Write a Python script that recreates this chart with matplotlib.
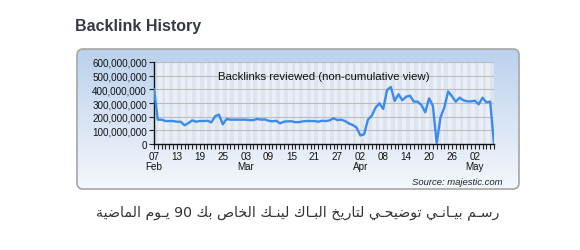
import re
import numpy as np
import pandas as pd
import matplotlib
matplotlib.use("Agg")
import matplotlib.pyplot as plt
import matplotlib.dates as mdates
from matplotlib.patches import FancyBboxPatch
from matplotlib.ticker import FuncFormatter

### Data: backlinks reviewed per day (millions), 90 days from 07 Feb
start_date = "2011-02-07"
backlinks_m = [400, 178, 178, 168, 168, 168, 163, 163, 137, 153,
               173, 163, 168, 168, 170, 158, 203, 215, 144, 183,
               178, 178, 178, 178, 178, 175, 175, 183, 178, 180,
               170, 166, 170, 151, 163, 166, 166, 160, 160, 166,
               168, 168, 168, 163, 170, 168, 173, 188, 175, 178,
               168, 151, 139, 122, 63, 71, 178, 207, 266, 298,
               256, 395, 417, 315, 364, 320, 346, 354, 310, 310,
               285, 232, 334, 280, 5, 195, 268, 385, 349, 310,
               339, 320, 312, 312, 317, 290, 339, 305, 310, 0]
y_ticks = [0, 100e6, 200e6, 300e6, 400e6, 500e6, 600e6]

title = "Backlink History"
series_label = "Backlinks reviewed (non-cumulative view)"
source_text = "Source: majestic.com"
caption = "رسـم بيـانـي توضيحـي لتاريخ البـاك لينـك الخاص بك 90 يـوم الماضية"

dates = pd.date_range(start_date, periods=len(backlinks_m), freq="D")
values = np.array(backlinks_m) * 1e6

### small Arabic shaper (matplotlib has no complex text layout)
AR_FORMS = {  # letter: (isolated presentation form, joins to the next letter)
    'ا': (0xFE8D, False), 'ب': (0xFE8F, True), 'ة': (0xFE93, False),
    'ت': (0xFE95, True), 'ح': (0xFEA1, True), 'خ': (0xFEA5, True),
    'ر': (0xFEAD, False), 'س': (0xFEB1, True), 'ص': (0xFEB9, True),
    'ض': (0xFEBD, True), 'ك': (0xFED9, True), 'ل': (0xFEDD, True),
    'م': (0xFEE1, True), 'ن': (0xFEE5, True), 'و': (0xFEED, False),
    'ي': (0xFEF1, True), 'ـ': (None, True),
}


def shape_arabic(s):
    out = []
    for i, ch in enumerate(s):
        if ch not in AR_FORMS or AR_FORMS[ch][0] is None:
            out.append(ch)
            continue
        prev = s[i - 1] if i > 0 else None
        nxt = s[i + 1] if i + 1 < len(s) else None
        join_prev = prev in AR_FORMS and AR_FORMS[prev][1]
        join_next = AR_FORMS[ch][1] and nxt in AR_FORMS
        base = AR_FORMS[ch][0]
        if join_prev and join_next:
            cp = base + 3
        elif join_prev:
            cp = base + 1
        elif join_next:
            cp = base + 2
        else:
            cp = base
        out.append(chr(cp))
    vis = "".join(out)[::-1]
    return re.sub(r"\d+", lambda m: m.group()[::-1], vis)


plt.rcParams["font.family"] = ["Liberation Sans", "DejaVu Sans"]

W, H = 580, 251
fig = plt.figure(figsize=(W / 100, H / 100), dpi=100)

### background layer in pixel coordinates
bg = fig.add_axes([0, 0, 1, 1])
bg.set_xlim(0, W)
bg.set_ylim(H, 0)
bg.axis("off")

px0, py0, px1, py1 = 77, 50, 519, 190
panel = FancyBboxPatch((px0, py0), px1 - px0, py1 - py0,
                       boxstyle="round,pad=0,rounding_size=6",
                       fc="none", ec="#a6a6a6", lw=1.2, zorder=3)
bg.add_patch(panel)
top_c = np.array([0.73, 0.82, 0.93])
bot_c = np.array([0.96, 0.97, 0.99])
t = np.linspace(0, 1, 200)[:, None, None]
grad = top_c * (1 - t) + bot_c * t
grad = np.repeat(grad, 2, axis=1)
im = bg.imshow(grad, extent=[px0, px1, py1, py0], aspect="auto",
               origin="upper", zorder=1)
im.set_clip_path(panel)

bg.text(75, 26, title, fontsize=11.5, fontweight="bold", color="#333a45",
        ha="left", va="center")
bg.text(503, 183, source_text, fontsize=6.8, style="italic", color="#222222",
        ha="right", va="center")
bg.text(298, 213, shape_arabic(caption), fontsize=10.2, color="#333333",
        ha="center", va="center", family=["DejaVu Sans"])
# series label sits on top of the chart, so it goes on the figure itself
fig.text(324 / W, 1 - 77 / H, series_label, fontsize=8.2, color="#111111",
         ha="center", va="center")

### chart
ax = fig.add_axes([154 / W, 1 - 145 / H, (494 - 154) / W, (145 - 63) / H])
ax.set_facecolor("#eaeff6")
for i in range(0, len(dates), 2):
    ax.axvspan(dates[i], dates[i] + pd.Timedelta(days=1), color="#dde4ef",
               lw=0, zorder=0)
for yv in y_ticks[1:]:
    ax.axhline(yv, color="#bcbcbc", lw=0.8, zorder=1)

ax.plot(dates, values, color="#3b8bef", lw=1.7, zorder=3,
        solid_joinstyle="round")

ax.set_xlim(dates[0], dates[-1])
ax.set_ylim(0, 600e6)
ax.set_yticks(y_ticks)
ax.yaxis.set_major_formatter(FuncFormatter(lambda v, p: f"{int(v):,}"))

tick_dates = pd.date_range(start_date, dates[-1], freq="6D")
ax.set_xticks(tick_dates)
labels = []
last_month = None
for d in tick_dates:
    if d.month != last_month:
        labels.append(f"{d:%d}\n{d:%b}")
        last_month = d.month
    else:
        labels.append(f"{d:%d}")
ax.set_xticklabels(labels)
ax.xaxis.set_minor_locator(mdates.DayLocator())

ax.tick_params(axis="both", which="both", direction="out", length=3.5,
               width=0.8, color="#222222", labelsize=7.1, labelcolor="#111111",
               pad=1.5)
for lab in ax.get_xticklabels():
    lab.set_linespacing(1.05)

for s in ["top", "right"]:
    ax.spines[s].set_visible(False)
for s in ["left", "bottom"]:
    ax.spines[s].set_color("#111111")
    ax.spines[s].set_linewidth(1.0)

fig.savefig("out.png", dpi=100)
